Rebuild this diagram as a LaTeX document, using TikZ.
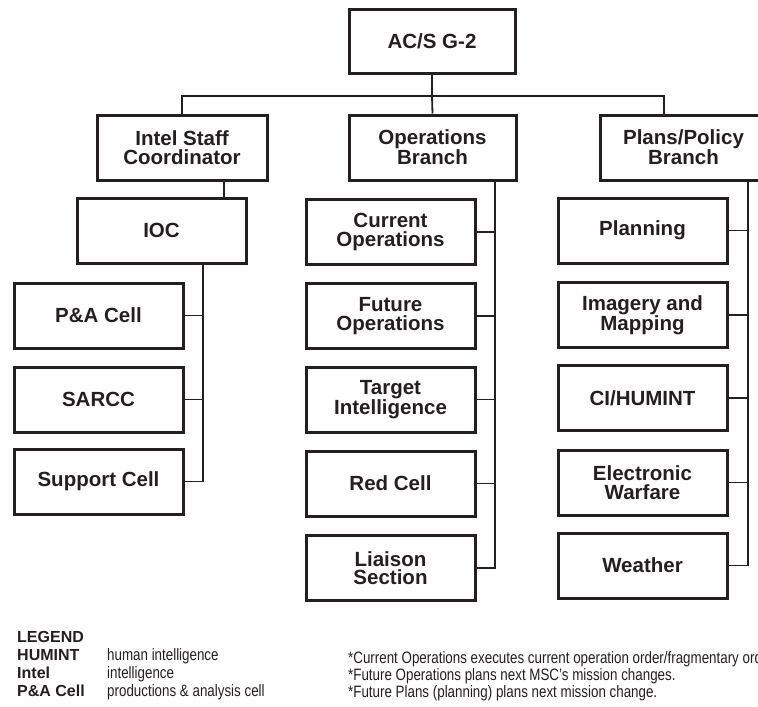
\documentclass[tikz,border=0pt]{standalone}
\usepackage{fontspec}
\setmainfont{Liberation Sans}
\newfontfamily\narrowfont[FakeStretch=0.81]{Liberation Sans}
\definecolor{ink}{HTML}{231F20}
\begin{document}
\begin{tikzpicture}[x=1pt,y=-1pt,
  unit/.style={draw=ink, line width=3pt, text=ink, minimum width=169pt,
    minimum height=65pt, inner sep=0pt, align=center,
    font=\fontsize{20.5}{18.5}\selectfont\bfseries},
  link/.style={draw=ink, line width=1.8pt},
  key/.style={anchor=base west, inner sep=0pt, text=ink,
    font=\fontsize{16}{18}\selectfont\bfseries},
  gloss/.style={anchor=base west, inner sep=0pt, text=ink,
    font=\narrowfont\fontsize{16.5}{18}\selectfont},
]
\useasboundingbox (0,0) rectangle (758,707);
\clip (0,0) rectangle (758,707);

% head and branches
\node[unit, minimum width=166pt, minimum height=64pt] (acs) at (432,41) {AC/S G-2};
\node[unit, minimum width=170pt] (isc) at (182,147.5) {Intel Staff\\Coordinator};
\node[unit, minimum width=167pt] (opsb) at (432.5,147.5) {Operations\\Branch};
\node[unit, minimum width=167pt] (plans) at (683.5,147.5) {Plans/Policy\\Branch};

% intel staff column
\node[unit] (ioc) at (161.5,230.5) {IOC};
\node[unit] (pac) at (98.5,315.5) {P\&A Cell};
\node[unit] (sarcc) at (98.5,399.5) {SARCC};
\node[unit] (supc) at (98.5,481.5) {Support Cell};

% operations column
\node[unit] (curops) at (390.5,232) {Current\\Operations};
\node[unit] (futops) at (390.5,316) {Future\\Operations};
\node[unit] (tgt) at (390.5,399.5) {Target\\Intelligence};
\node[unit] (red) at (390.5,483.5) {Red Cell};
\node[unit] (liaison) at (390.5,568) {Liaison\\Section};

% plans/policy column
\node[unit] (plan) at (642.5,230.5) {Planning};
\node[unit] (img) at (642.5,315) {Imagery and\\Mapping};
\node[unit] (ci) at (642.5,398) {CI/HUMINT};
\node[unit] (ew) at (642.5,482.5) {Electronic\\Warfare};
\node[unit] (wx) at (642.5,565.5) {Weather};

% top bus
\coordinate (bus) at (432,96);
\draw[link] (acs.south) -- (bus);
\draw[link] (isc.north) |- (bus) -| ([xshift=-19.5pt]plans.north);
\draw[link] (bus) -- (opsb.north);

% intel staff links
\coordinate (itop) at ([xshift=42pt]isc.south);
\draw[link] (itop) -- (itop |- ioc.north);
\coordinate (ltop) at ([xshift=41.5pt]ioc.south);
\draw[link] (ltop) |- (supc.east);
\draw[link] (pac.east) -- (pac.east -| ltop);
\draw[link] (sarcc.east) -- (sarcc.east -| ltop);

% operations links
\coordinate (mtop) at ([xshift=62.5pt]opsb.south);
\draw[link] (mtop) |- (liaison.east);
\draw[link] (curops.east) -- (curops.east -| mtop);
\draw[link] (futops.east) -- (futops.east -| mtop);
\draw[link] (tgt.east) -- (tgt.east -| mtop);
\draw[link] (red.east) -- (red.east -| mtop);

% plans/policy links
\coordinate (rtop) at ([xshift=64.5pt]plans.south);
\draw[link] (rtop) |- (wx.east);
\draw[link] (plan.east) -- (plan.east -| rtop);
\draw[link] (img.east) -- (img.east -| rtop);
\draw[link] (ci.east) -- (ci.east -| rtop);
\draw[link] (ew.east) -- (ew.east -| rtop);

% legend
\node[key] (lg) at (17,642) {LEGEND};
\node[key] (k1) at (17,660.5) {HUMINT};
\node[key] (k2) at (17,678.5) {Intel};
\node[key] (k3) at (17,696.5) {P\&A Cell};
\node[gloss] (g1) at (107,660.5) {human intelligence};
\node[gloss] (g2) at (107,678.5) {intelligence};
\node[gloss] (g3) at (107,696.5) {productions \& analysis cell};

% notes
\node[gloss] (n1) at (348,663) {*Current Operations executes current operation order/fragmentary order.};
\node[gloss] (n2) at (348,680.5) {*Future Operations plans next MSC’s mission changes.};
\node[gloss] (n3) at (348,697.5) {*Future Plans (planning) plans next mission change.};
\end{tikzpicture}
\end{document}
